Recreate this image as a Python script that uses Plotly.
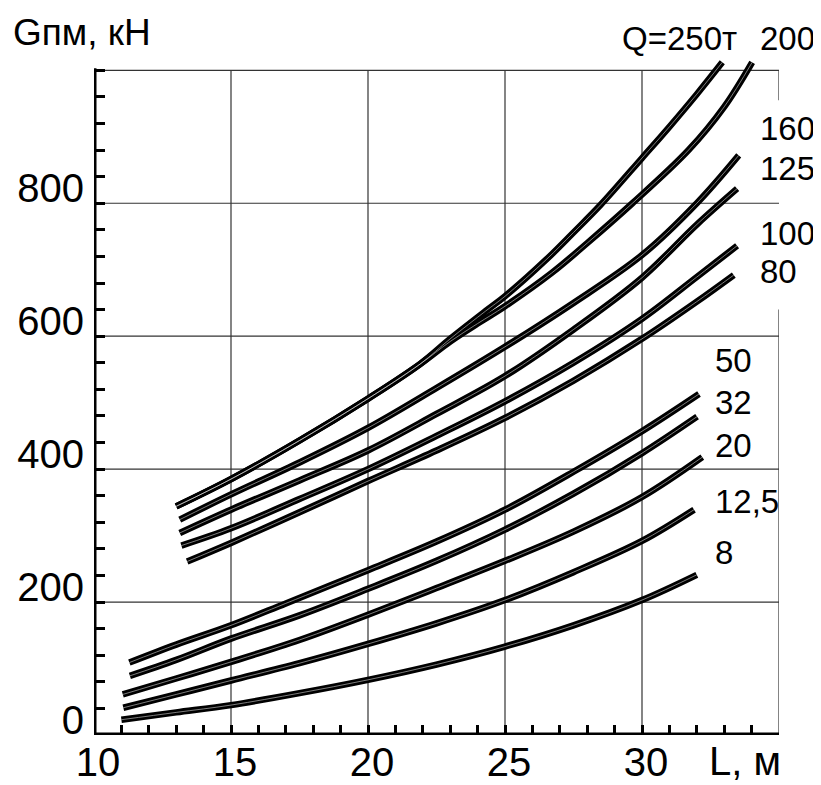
import plotly.graph_objects as go

# ---------------- data ----------------
series_names = ["250", "200", "160", "125", "100", "80", "50", "32", "20", "12,5", "8"]

L_250 = [13.0, 15, 17.5, 20, 21.9, 23.0, 24.3, 25, 26.5, 27.5, 28.5, 30, 31, 32, 32.93]
G_250 = [344, 385, 443, 506, 558, 596, 638, 660, 715, 756, 798, 868, 915, 964, 1012]

L_200 = [13.0, 15, 17.5, 20, 21.9, 23.0, 24.0, 25, 26.7, 28, 29.65, 31.7, 33, 34.02]
G_200 = [344, 385, 443, 506, 558, 592, 619, 645, 695, 740, 800, 880, 945, 1012]

L_160 = [13.13, 15, 17.5, 20, 22.5, 25, 27.5, 30, 32, 33.53]
G_160 = [324, 362, 410, 462, 522, 584, 650, 722, 800, 872]

L_125 = [13.13, 15, 17.5, 20, 22.5, 25, 27.5, 30, 32, 33.47]
G_125 = [304, 339, 383, 428, 483, 540, 610, 688, 768, 822]

L_100 = [13.19, 15, 17.5, 20, 22.5, 25, 27.5, 30, 32, 33.47]
G_100 = [285, 311, 355, 400, 450, 502, 560, 626, 689, 736]

L_80 = [13.4, 15, 17.5, 20, 22.5, 25, 27.5, 30, 32, 33.35]
G_80 = [261, 289, 335, 382, 428, 477, 533, 596, 652, 692]

L_50 = [11.29, 13, 15, 17, 20, 22.5, 25, 27.5, 30, 32.08]
G_50 = [109, 136, 165, 198, 248, 291, 339, 396, 457, 513]

L_32 = [11.31, 13, 15, 17.5, 20, 22.5, 25, 27.5, 30, 32.01]
G_32 = [89, 113, 145, 180, 220, 262, 309, 363, 424, 479]

L_20 = [11.05, 13, 15, 17.5, 20, 22.5, 25, 27.5, 30, 32.2]
G_20 = [61, 85, 110, 143, 181, 221, 262, 306, 358, 418]

L_12 = [11.07, 13, 15, 17.5, 20, 22.5, 25, 27.5, 30, 31.9]
G_12 = [41, 61, 82, 108, 137, 168, 203, 245, 292, 339]

L_8 = [11.0, 13, 15, 17.5, 20, 22.5, 25, 27.5, 30, 32]
G_8 = [23, 34, 45, 63, 83, 106, 133, 165, 203, 241]

x_ticks = [10, 15, 20, 25, 30]
y_ticks = [0, 200, 400, 600, 800]
x_grid = [15, 20, 25, 30]
y_grid = [200, 400, 600, 800]

curve_labels = ["Q=250т", "200", "160", "125", "100", "80", "50", "32", "20", "12,5", "8"]

# ---------------- layout / style ----------------
# label anchor: (x in data units, y in data units, extra pixel shift up)
label_pos = [(29.20, 1000, 32), (34.22, 1000, 32), (34.22, 912, 0), (34.22, 852, 0),
             (34.22, 754, 0), (34.22, 697, 0), (32.60, 563, 0), (32.60, 500, 0),
             (32.60, 436, 0), (32.60, 352, 0), (32.60, 274, 0)]

FONT = "Liberation Sans, Arial, sans-serif"
X0, X1, Y0, Y1 = 10, 35, 0, 1000

fig = go.Figure()
data = [(L_250, G_250), (L_200, G_200), (L_160, G_160), (L_125, G_125), (L_100, G_100),
        (L_80, G_80), (L_50, G_50), (L_32, G_32), (L_20, G_20), (L_12, G_12), (L_8, G_8)]
for name, (xs, ys) in zip(series_names, data):
    fig.add_trace(go.Scatter(x=xs, y=ys, mode="lines", name=name,
                             line=dict(color="black", width=6.5, shape="spline", smoothing=1.0),
                             showlegend=False, hoverinfo="skip"))
for name, (xs, ys) in zip(series_names, data):
    fig.add_trace(go.Scatter(x=xs, y=ys, mode="lines", name=name + " inner",
                             line=dict(color="white", width=0.7, shape="spline", smoothing=1.0),
                             opacity=0.7, showlegend=False, hoverinfo="skip"))

shapes = []
grid_line = dict(color="#333333", width=1.2)
for gx in x_grid:
    shapes.append(dict(type="line", xref="x", yref="y", x0=gx, x1=gx, y0=Y0, y1=Y1,
                       line=grid_line, layer="below"))
for gy in y_grid:
    shapes.append(dict(type="line", xref="x", yref="y", x0=X0, x1=X1, y0=gy, y1=gy,
                       line=grid_line, layer="below"))
# frame: top line and broken right line
shapes.append(dict(type="line", xref="x", yref="y", x0=X0, x1=X1, y0=Y1, y1=Y1,
                   line=grid_line, layer="below"))
shapes.append(dict(type="line", xref="x", yref="y", x0=X1, x1=X1, y0=Y0, y1=640,
                   line=grid_line, layer="below"))
shapes.append(dict(type="line", xref="x", yref="y", x0=X1, x1=X1, y0=955, y1=Y1,
                   line=grid_line, layer="below"))
# thick axes
shapes.append(dict(type="line", xref="x", yref="y", x0=X0, x1=X0, y0=-4, y1=1003,
                   line=dict(color="black", width=5), layer="above"))
shapes.append(dict(type="line", xref="x", yref="y", x0=9.9, x1=X1, y0=Y0, y1=Y0,
                   line=dict(color="black", width=5), layer="above"))

annotations = []
for txt, (ax, ay, sh) in zip(curve_labels, label_pos):
    annotations.append(dict(x=ax, y=ay, xref="x", yref="y", text=txt, showarrow=False,
                            xanchor="left", yanchor="middle", yshift=sh,
                            font=dict(family=FONT, size=33, color="black")))
annotations.append(dict(x=33.75, y=0, xref="x", yref="y", text="L, м", showarrow=False,
                        xanchor="center", yanchor="top", yshift=-2,
                        font=dict(family=FONT, size=40, color="black")))
annotations.append(dict(x=0, y=1000, xref="paper", yref="y", text="Gпм, кН", showarrow=False,
                        xanchor="left", yanchor="middle", xshift=-83, yshift=38,
                        font=dict(family=FONT, size=37, color="black")))

fig.update_layout(
    width=821, height=785,
    margin=dict(l=86, r=50, t=49, b=58, pad=0, autoexpand=False),
    paper_bgcolor="white", plot_bgcolor="white",
    shapes=shapes, annotations=annotations,
    font=dict(family=FONT, color="black"),
    xaxis=dict(range=[X0, X1], tickvals=x_ticks, ticks="inside", ticklen=10, tickwidth=3,
               tickcolor="black", showgrid=False, zeroline=False, showline=False,
               automargin=False,
               tickfont=dict(family=FONT, size=40, color="black"), ticklabelshift=4,
               ticklabelstandoff=0,
               minor=dict(tick0=10, dtick=1, ticks="inside", ticklen=10, tickwidth=3,
                          tickcolor="black", showgrid=False)),
    yaxis=dict(range=[0, 1020], tickvals=y_ticks, ticks="inside", ticklen=11, tickwidth=3,
               tickcolor="black", showgrid=False, zeroline=False, showline=False,
               automargin=False,
               tickfont=dict(family=FONT, size=40, color="black"), ticklabelshift=-15,
               ticklabelstandoff=9,
               minor=dict(tick0=0, dtick=40, ticks="inside", ticklen=11, tickwidth=3,
                          tickcolor="black", showgrid=False)),
)

fig.write_html("out.html")
